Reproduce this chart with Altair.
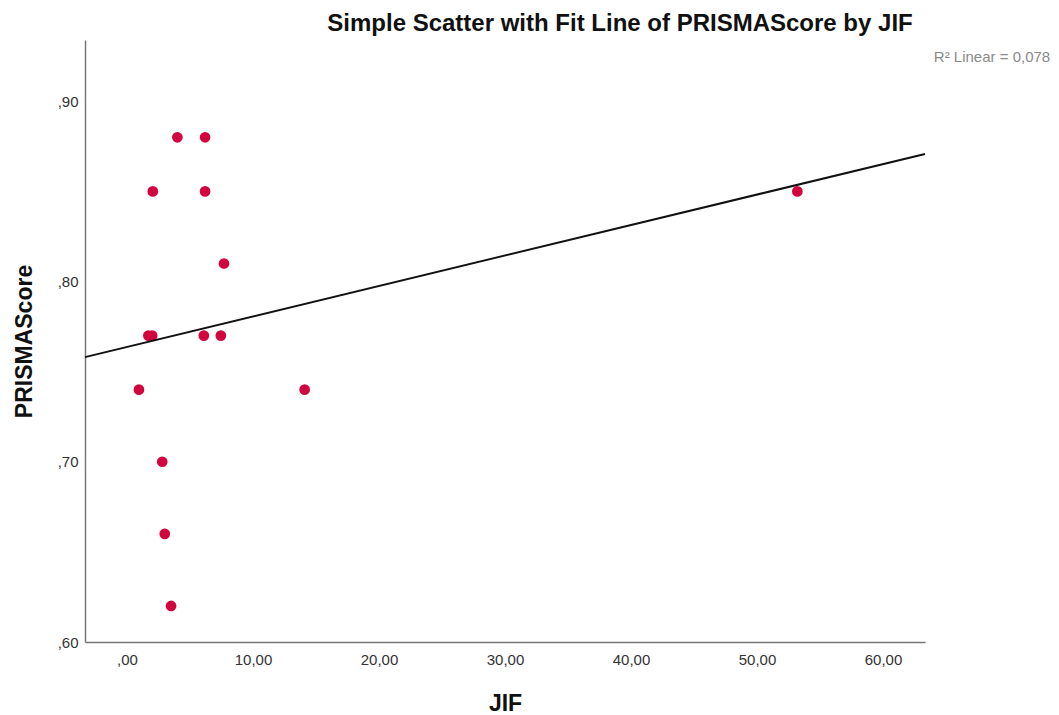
import altair as alt
import pandas as pd

# Journal impact factor and PRISMA adherence score per review
jif = [4.0, 6.2, 2.05, 6.2, 7.7, 1.7, 2.0, 6.1, 7.45, 0.95, 14.1, 2.8, 3.0, 3.5, 53.2]
prisma = [0.88, 0.88, 0.85, 0.85, 0.81, 0.77, 0.77, 0.77, 0.77, 0.74, 0.74, 0.70, 0.66, 0.62, 0.85]

x_ticks = [0, 10, 20, 30, 40, 50, 60]
y_ticks = [0.6, 0.7, 0.8, 0.9]
x_domain = [-3.33, 63.33]
y_domain = [0.6, 0.934]

df = pd.DataFrame({"JIF": jif, "PRISMAScore": prisma})

FONT = "Liberation Sans"
POINT_COLOR = "#d2063f"

# decimal comma, leading zero dropped for fractions (",90", "10,00")
label_expr = (
    "replace(datum.value < 1 && datum.value >= 0 ? "
    "substring(format(datum.value, '.2f'), 1) : format(datum.value, '.2f'), '.', ',')"
)

x_enc = alt.X(
    "JIF:Q",
    scale=alt.Scale(domain=x_domain, nice=False, zero=False),
    axis=alt.Axis(
        title="JIF",
        values=x_ticks,
        labelExpr=label_expr,
        grid=False,
        ticks=False,
        labelPadding=10,
        labelFontSize=15,
        labelColor="#333333",
        labelFont=FONT,
        titleFont=FONT,
        titleFontSize=23,
        titleFontWeight="bold",
        titleColor="#111111",
        titleX=420,
        titleY=61,
        titleBaseline="middle",
        domainColor="#777777",
        domainWidth=1.5,
    ),
)
y_enc = alt.Y(
    "PRISMAScore:Q",
    scale=alt.Scale(domain=y_domain, nice=False, zero=False),
    axis=alt.Axis(
        title="PRISMAScore",
        values=y_ticks,
        labelExpr=label_expr,
        grid=False,
        ticks=False,
        labelPadding=7,
        labelFontSize=15,
        labelColor="#333333",
        labelFont=FONT,
        titleFont=FONT,
        titleFontSize=23,
        titleFontWeight="bold",
        titleColor="#111111",
        titleX=-61,
        titleY=301,
        titleBaseline="middle",
        domainColor="#777777",
        domainWidth=1.5,
    ),
)

base = alt.Chart(df)

points = base.mark_circle(size=115, color=POINT_COLOR, opacity=1).encode(x=x_enc, y=y_enc)

fit = (
    base.transform_regression("JIF", "PRISMAScore", extent=x_domain)
    .mark_line(color="#111111", strokeWidth=2, clip=False)
    .encode(x="JIF:Q", y="PRISMAScore:Q")
)

r2 = (
    base.transform_regression("JIF", "PRISMAScore", params=True)
    .transform_calculate(
        label="'R² Linear = ' + replace(format(datum.rSquared, '.3f'), '.', ',')"
    )
    .mark_text(
        font=FONT, fontSize=15, color="#8a8a8a", align="center", baseline="middle"
    )
    .encode(x=alt.value(907), y=alt.value(17), text="label:N")
)

chart = (
    alt.layer(points, fit, r2)
    .properties(
        width=840,
        height=602,
        background="white",
        title=alt.TitleParams(
            "Simple Scatter with Fit Line of PRISMAScore by JIF",
            font=FONT,
            fontSize=24,
            fontWeight="bold",
            color="#111111",
            anchor="middle",
            dx=115,
            dy=27,
            offset=12,
            baseline="alphabetic",
        ),
        autosize=alt.AutoSizeParams(type="none"),
        padding={"left": 85, "top": 40, "right": 134, "bottom": 73},
    )
    .configure_view(strokeWidth=0, stroke="transparent")
)

chart.save("out.html", embed_options={"renderer": "svg", "actions": False})
